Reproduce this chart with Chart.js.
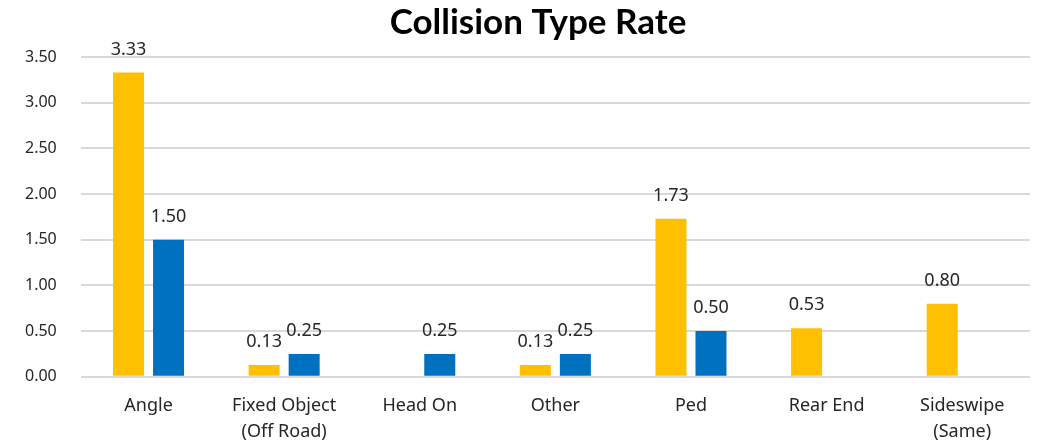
<!DOCTYPE html>
<html><head><meta charset="utf-8">
<script src="https://cdn.jsdelivr.net/npm/chart.js@4"></script>
<style>html,body{margin:0;padding:0;background:#fff}#wrap{width:1048px;height:447px}</style>
</head><body><div id="wrap"><canvas id="c"></canvas></div>
<script>
const titleText = 'Collision Type Rate';
const categories = [["Angle"], ["Fixed Object", "(Off Road)"], ["Head On"], ["Other"], ["Ped"], ["Rear End"], ["Sideswipe", "(Same)"]];
const seriesA = [3.33, 0.13, null, 0.13, 1.73, 0.53, 0.80];
const seriesB = [1.50, 0.25, 0.25, 0.25, 0.50, null, null];
const yTicks = [0, 0.5, 1, 1.5, 2, 2.5, 3, 3.5];

const labelPlugin = {
  id: 'vals',
  afterDatasetsDraw(chart) {
    const ctx = chart.ctx;
    ctx.save();
    ctx.font = 'bold 35px Lato, sans-serif';
    ctx.fillStyle = '#000';
    ctx.textAlign = 'center';
    ctx.textBaseline = 'middle';
    ctx.fillText(titleText, 538, 23);
    ctx.font = '18px "Noto Sans", sans-serif';
    ctx.fillStyle = '#262626';
    chart.data.datasets.forEach((ds, i) => {
      chart.getDatasetMeta(i).data.forEach((bar, j) => {
        const v = ds.data[j];
        if (v === null || v === undefined) return;
        ctx.fillText(v.toFixed(2), bar.x, bar.y - 23);
      });
    });
    ctx.restore();
  }
};

new Chart(document.getElementById('c'), {
  type: 'bar',
  data: {
    labels: categories,
    datasets: [
      { data: seriesA, backgroundColor: '#FFC000', categoryPercentage: 0.59, barPercentage: 0.775 },
      { data: seriesB, backgroundColor: '#0070C0', categoryPercentage: 0.59, barPercentage: 0.775 }
    ]
  },
  options: {
    responsive: true, maintainAspectRatio: false, animation: false,
    layout: { padding: { left: 1, right: 18, top: 57, bottom: -6 } },
    plugins: {
      legend: { display: false },
      tooltip: { enabled: false },
      title: { display: false }
    },
    scales: {
      x: {
        grid: { display: false },
        border: { display: false },
        ticks: { color: '#262626', font: { family: '"Noto Sans"', size: 18, lineHeight: 1.45 }, padding: 8 }
      },
      y: {
        min: 0, max: 3.5,
        afterBuildTicks: (s) => { s.ticks = yTicks.map(v => ({ value: v })); },
        grid: { color: '#d9d9d9', lineWidth: 2, drawTicks: false },
        border: { display: false },
        ticks: { color: '#262626', font: { family: '"Noto Sans"', size: 16 }, padding: 24, callback: (v) => Number(v).toFixed(2) }
      }
    }
  },
  plugins: [labelPlugin]
});
</script></body></html>
